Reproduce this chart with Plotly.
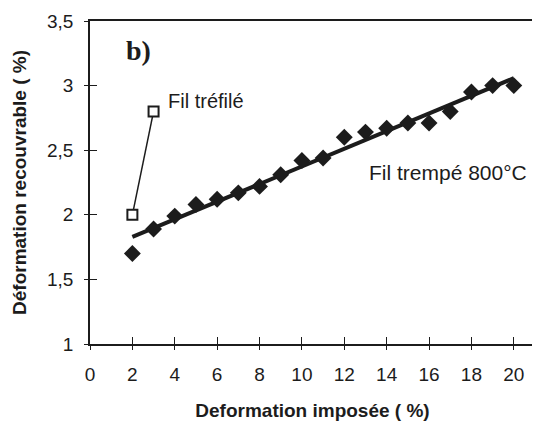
import numpy as np
import plotly.graph_objects as go

# Fil trempé 800°C
x_trempe = [2, 3, 4, 5, 6, 7, 8, 9, 10, 11, 12, 13, 14, 15, 16, 17, 18, 19, 20]
y_trempe = [1.70, 1.89, 1.99, 2.08, 2.12, 2.17, 2.22, 2.31, 2.42, 2.44,
            2.60, 2.64, 2.67, 2.71, 2.71, 2.80, 2.95, 3.00, 3.00]
# Fil tréfilé
x_trefile = [2, 3]
y_trefile = [2.0, 2.8]

x_ticks = [0, 2, 4, 6, 8, 10, 12, 14, 16, 18, 20]
y_ticks = [1, 1.5, 2, 2.5, 3, 3.5]
y_tick_labels = ["1", "1,5", "2", "2,5", "3", "3,5"]

# linear least-squares trend of the quenched wire data
coef = np.polyfit(x_trempe, y_trempe, 1)
x_fit = [min(x_trempe), max(x_trempe)]
y_fit = list(np.polyval(coef, x_fit))

INK = "#1c1c1c"
FONT = "Arial, Liberation Sans, sans-serif"

fig = go.Figure()
fig.add_trace(go.Scatter(x=x_fit, y=y_fit, mode="lines",
                         line=dict(color=INK, width=4), hoverinfo="skip"))
fig.add_trace(go.Scatter(x=x_trempe, y=y_trempe, mode="markers",
                         marker=dict(symbol="diamond", size=13, color=INK)))
fig.add_trace(go.Scatter(x=x_trefile, y=y_trefile, mode="lines+markers",
                         line=dict(color=INK, width=1.5),
                         marker=dict(symbol="square", size=10, color="white",
                                     line=dict(color=INK, width=2))))

xr = [0, 21]
yr = [1, 3.5]
fig.update_layout(
    width=532, height=419,
    margin=dict(l=82, r=5, t=13, b=83, autoexpand=False),
    paper_bgcolor="white", plot_bgcolor="white",
    showlegend=False,
    font=dict(family=FONT, color=INK),
    xaxis=dict(range=xr, tickvals=x_ticks, ticks="outside", ticklen=4,
               tickwidth=1.2, tickcolor=INK, showline=True, linecolor=INK,
               linewidth=1.5, mirror=True, showgrid=False, zeroline=False,
               automargin=False,
               tickfont=dict(size=19, family=FONT, color=INK),
               ticklabelstandoff=8,
               title=dict(text="<b>Deformation imposée ( %)</b>",
                          font=dict(size=19, family=FONT, color=INK),
                          standoff=20)),
    yaxis=dict(range=yr, tickvals=y_ticks, ticktext=y_tick_labels,
               ticks="outside", ticklen=4, tickwidth=1.2, tickcolor=INK,
               showline=True, linecolor=INK, linewidth=1.5, mirror=True,
               showgrid=False, zeroline=False, automargin=False,
               tickfont=dict(size=19, family=FONT, color=INK),
               ticklabelstandoff=7,
               title=dict(text="<b>Déformation recouvrable ( %)</b>",
                          font=dict(size=19, family=FONT, color=INK),
                          standoff=15)),
    xaxis2=dict(range=xr, overlaying="x", side="bottom", tickvals=x_ticks,
                ticks="inside", ticklen=7, tickwidth=1.2, tickcolor=INK,
                showticklabels=False, showline=False, showgrid=False,
                zeroline=False, automargin=False),
    yaxis2=dict(range=yr, overlaying="y", side="left", tickvals=y_ticks,
                ticks="inside", ticklen=7, tickwidth=1.2, tickcolor=INK,
                showticklabels=False, showline=False, showgrid=False,
                zeroline=False, automargin=False),
)
# invisible trace to activate the overlay axes (crossing tick marks)
fig.add_trace(go.Scatter(x=[None], y=[None], xaxis="x2", yaxis="y2",
                         mode="markers", hoverinfo="skip"))

fig.add_annotation(x=1.6, y=3.27, xref="x", yref="y", text="<b>b)</b>",
                   showarrow=False, xanchor="left",
                   font=dict(size=28, family="Times New Roman, Liberation Serif, serif",
                             color=INK))
fig.add_annotation(x=3.6, y=2.88, xref="x", yref="y", text="Fil tréfilé",
                   showarrow=False, xanchor="left",
                   font=dict(size=20, family=FONT, color=INK))
fig.add_annotation(x=20.7, y=2.33, xref="x", yref="y", text="Fil trempé 800°C",
                   showarrow=False, xanchor="right",
                   font=dict(size=21, family=FONT, color=INK))

fig.write_html("out.html")
